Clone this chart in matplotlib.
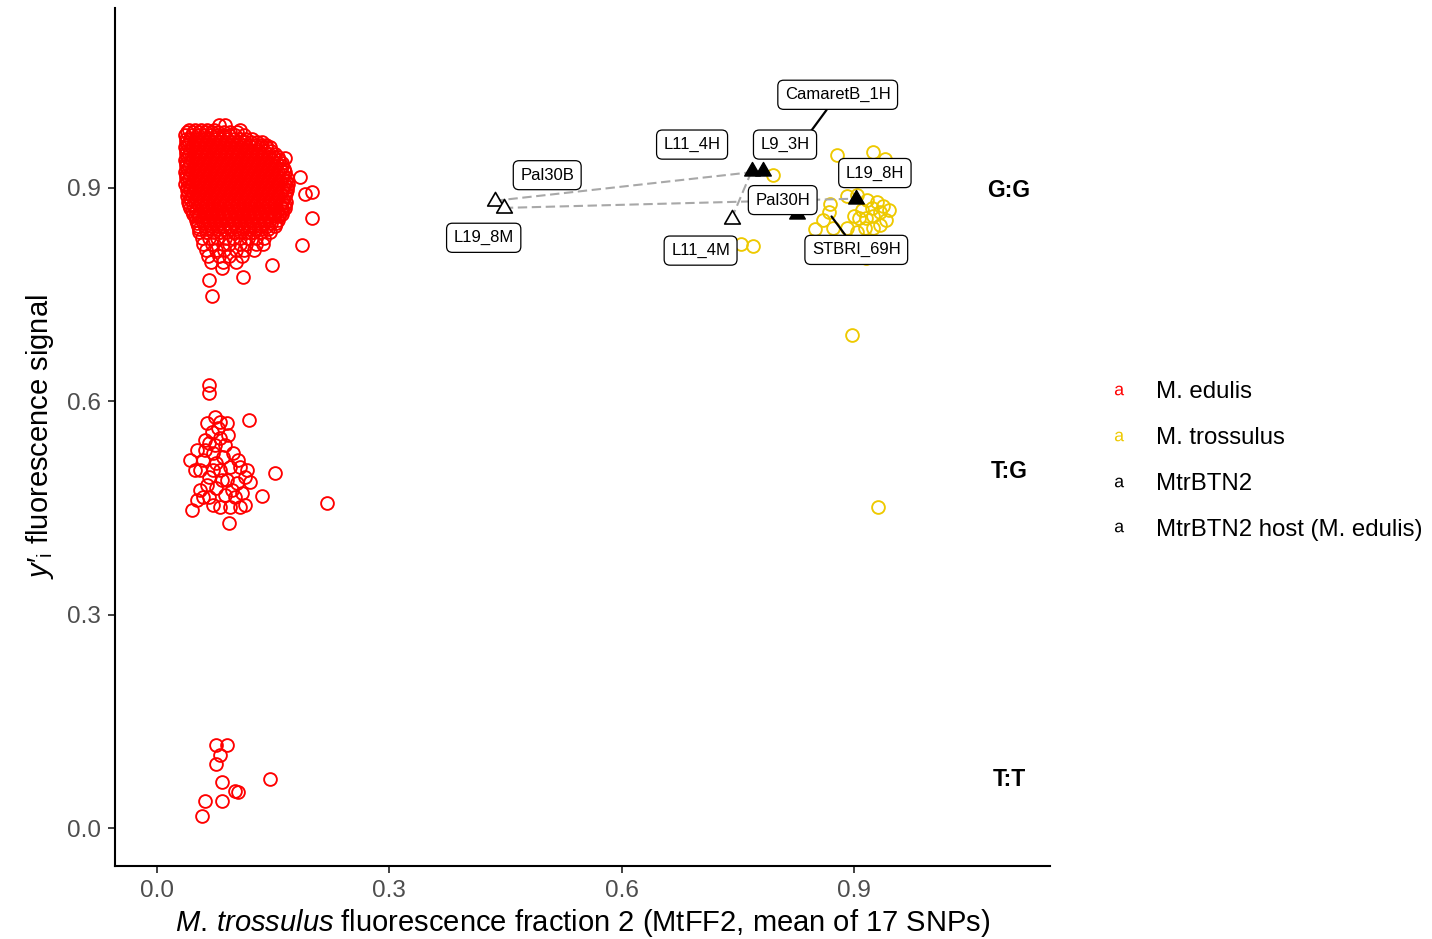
import numpy as np
import matplotlib
matplotlib.use("Agg")
import matplotlib.pyplot as plt
from matplotlib.lines import Line2D
from matplotlib.path import Path

plt.rcParams['font.family'] = ['Liberation Sans', 'DejaVu Sans']
plt.rcParams['mathtext.fontset'] = 'custom'
plt.rcParams['mathtext.rm'] = 'Liberation Sans'
plt.rcParams['mathtext.it'] = 'Liberation Sans:italic'

# ---- M. edulis, G:G cluster (dense core given row by row) ----
edulis_gg_row_y = [0.989, 0.982, 0.974, 0.965, 0.957, 0.948, 0.940, 0.931,
                   0.923, 0.914, 0.906, 0.897, 0.889, 0.880, 0.872, 0.864,
                   0.855, 0.847, 0.838, 0.830, 0.821, 0.813, 0.804, 0.796]
edulis_gg_row_x = [
    [0.080, 0.088],
    [0.041, 0.049, 0.057, 0.065, 0.074, 0.107],
    [0.037, 0.045, 0.053, 0.061, 0.069, 0.077, 0.085, 0.093, 0.101, 0.112],
    [0.038, 0.042, 0.049, 0.057, 0.065, 0.073, 0.081, 0.089, 0.097, 0.105, 0.113, 0.121, 0.129, 0.136],
    [0.037, 0.045, 0.053, 0.061, 0.069, 0.077, 0.085, 0.093, 0.101, 0.109, 0.117, 0.125, 0.133, 0.141, 0.146],
    [0.038, 0.042, 0.049, 0.057, 0.065, 0.073, 0.081, 0.089, 0.097, 0.105, 0.113, 0.121, 0.129, 0.137, 0.145, 0.152],
    [0.037, 0.045, 0.053, 0.061, 0.069, 0.077, 0.085, 0.093, 0.101, 0.109, 0.117, 0.125, 0.133, 0.141, 0.149, 0.158],
    [0.038, 0.042, 0.049, 0.057, 0.065, 0.073, 0.081, 0.089, 0.097, 0.105, 0.113, 0.121, 0.129, 0.137, 0.145, 0.153, 0.162],
    [0.037, 0.045, 0.053, 0.061, 0.069, 0.077, 0.085, 0.093, 0.101, 0.109, 0.117, 0.125, 0.133, 0.141, 0.149, 0.157, 0.165],
    [0.038, 0.042, 0.049, 0.057, 0.065, 0.073, 0.081, 0.089, 0.097, 0.105, 0.113, 0.121, 0.129, 0.137, 0.145, 0.153, 0.161, 0.168],
    [0.037, 0.045, 0.053, 0.061, 0.069, 0.077, 0.085, 0.093, 0.101, 0.109, 0.117, 0.125, 0.133, 0.141, 0.149, 0.157, 0.165, 0.169],
    [0.039, 0.043, 0.049, 0.057, 0.065, 0.073, 0.081, 0.089, 0.097, 0.105, 0.113, 0.121, 0.129, 0.137, 0.145, 0.153, 0.161, 0.168],
    [0.039, 0.045, 0.053, 0.061, 0.069, 0.077, 0.085, 0.093, 0.101, 0.109, 0.117, 0.125, 0.133, 0.141, 0.149, 0.157, 0.165],
    [0.040, 0.049, 0.057, 0.065, 0.073, 0.081, 0.089, 0.097, 0.105, 0.113, 0.121, 0.129, 0.137, 0.145, 0.153, 0.161, 0.167],
    [0.043, 0.050, 0.058, 0.066, 0.074, 0.082, 0.090, 0.098, 0.106, 0.114, 0.122, 0.130, 0.138, 0.146, 0.154, 0.162, 0.165],
    [0.047, 0.054, 0.062, 0.070, 0.078, 0.086, 0.094, 0.102, 0.110, 0.118, 0.126, 0.134, 0.142, 0.150, 0.158, 0.161],
    [0.050, 0.058, 0.066, 0.074, 0.082, 0.090, 0.098, 0.106, 0.114, 0.122, 0.130, 0.138, 0.146, 0.156],
    [0.053, 0.062, 0.070, 0.078, 0.086, 0.094, 0.102, 0.110, 0.118, 0.126, 0.134, 0.142, 0.152],
    [0.055, 0.063, 0.072, 0.081, 0.090, 0.099, 0.108, 0.117, 0.126, 0.135, 0.146],
    [0.058, 0.068, 0.078, 0.088, 0.098, 0.108, 0.118, 0.128, 0.139],
    [0.060, 0.071, 0.085, 0.093, 0.107, 0.115, 0.128, 0.137],
    [0.064, 0.076, 0.087, 0.102, 0.113, 0.126],
    [0.066, 0.080, 0.093, 0.110],
    [0.070, 0.085, 0.102],
]
# second set of G:G individuals lying between the rows above
edulis_gg_mid_y = [0.978, 0.969, 0.961, 0.952, 0.944, 0.935, 0.927, 0.918, 0.910,
                   0.901, 0.893, 0.884, 0.876, 0.868, 0.860, 0.851, 0.843]
edulis_gg_mid_x = [
    [0.039, 0.047, 0.055, 0.063, 0.071, 0.079, 0.087, 0.095, 0.103],
    [0.038, 0.043, 0.051, 0.059, 0.067, 0.075, 0.083, 0.091, 0.099, 0.107, 0.115, 0.123],
    [0.039, 0.047, 0.055, 0.063, 0.071, 0.079, 0.087, 0.095, 0.103, 0.111, 0.119, 0.127, 0.135, 0.141],
    [0.038, 0.043, 0.051, 0.059, 0.067, 0.075, 0.083, 0.091, 0.099, 0.107, 0.115, 0.123, 0.131, 0.139, 0.147],
    [0.039, 0.047, 0.055, 0.063, 0.071, 0.079, 0.087, 0.095, 0.103, 0.111, 0.119, 0.127, 0.135, 0.143, 0.151, 0.156],
    [0.038, 0.043, 0.051, 0.059, 0.067, 0.075, 0.083, 0.091, 0.099, 0.107, 0.115, 0.123, 0.131, 0.139, 0.147, 0.155, 0.161],
    [0.039, 0.047, 0.055, 0.063, 0.071, 0.079, 0.087, 0.095, 0.103, 0.111, 0.119, 0.127, 0.135, 0.143, 0.151, 0.159, 0.164],
    [0.038, 0.043, 0.051, 0.059, 0.067, 0.075, 0.083, 0.091, 0.099, 0.107, 0.115, 0.123, 0.131, 0.139, 0.147, 0.155, 0.163],
    [0.039, 0.047, 0.055, 0.063, 0.071, 0.079, 0.087, 0.095, 0.103, 0.111, 0.119, 0.127, 0.135, 0.143, 0.151, 0.159, 0.167],
    [0.039, 0.043, 0.051, 0.059, 0.067, 0.075, 0.083, 0.091, 0.099, 0.107, 0.115, 0.123, 0.131, 0.139, 0.147, 0.155, 0.163, 0.168],
    [0.040, 0.047, 0.055, 0.063, 0.071, 0.079, 0.087, 0.095, 0.103, 0.111, 0.119, 0.127, 0.135, 0.143, 0.151, 0.159, 0.167],
    [0.043, 0.051, 0.059, 0.067, 0.075, 0.083, 0.091, 0.099, 0.107, 0.115, 0.123, 0.131, 0.139, 0.147, 0.155, 0.163],
    [0.042, 0.047, 0.055, 0.063, 0.071, 0.079, 0.087, 0.095, 0.103, 0.111, 0.119, 0.127, 0.135, 0.143, 0.151, 0.159, 0.165],
    [0.045, 0.051, 0.059, 0.067, 0.075, 0.083, 0.091, 0.099, 0.107, 0.115, 0.123, 0.131, 0.139, 0.147, 0.155, 0.162],
    [0.049, 0.055, 0.063, 0.071, 0.079, 0.087, 0.095, 0.103, 0.111, 0.119, 0.127, 0.135, 0.143, 0.151, 0.158],
    [0.052, 0.059, 0.067, 0.075, 0.083, 0.091, 0.099, 0.107, 0.115, 0.123, 0.131, 0.139, 0.147, 0.154],
    [0.055, 0.063, 0.071, 0.079, 0.087, 0.095, 0.103, 0.111, 0.119, 0.127, 0.135, 0.143],
]
# scattered G:G individuals around the core
edulis_gg_out_x = [0.071, 0.068, 0.111, 0.084, 0.149, 0.187, 0.200, 0.200, 0.191, 0.185, 0.166]
edulis_gg_out_y = [0.748, 0.771, 0.775, 0.788, 0.792, 0.820, 0.858, 0.894, 0.892, 0.916, 0.942]

# ---- M. edulis, T:G cluster ----
edulis_tg_x = [0.067, 0.067, 0.119, 0.065, 0.075, 0.081, 0.090, 0.071, 0.081, 0.043,
               0.052, 0.059, 0.072, 0.085, 0.098, 0.107, 0.116, 0.152, 0.136, 0.220,
               0.045, 0.052, 0.059, 0.072, 0.081, 0.094, 0.107, 0.093, 0.120, 0.049,
               0.068, 0.081, 0.090, 0.103, 0.065, 0.077, 0.101, 0.110, 0.114, 0.068,
               0.056, 0.077, 0.094, 0.105, 0.068, 0.062, 0.075, 0.088, 0.062, 0.079,
               0.092, 0.056, 0.088, 0.097, 0.072, 0.084, 0.114]
edulis_tg_y = [0.623, 0.612, 0.574, 0.570, 0.578, 0.571, 0.570, 0.557, 0.549, 0.518,
               0.532, 0.518, 0.527, 0.522, 0.527, 0.508, 0.504, 0.499, 0.467, 0.457,
               0.447, 0.461, 0.466, 0.454, 0.451, 0.451, 0.451, 0.429, 0.487, 0.504,
               0.494, 0.504, 0.489, 0.485, 0.482, 0.478, 0.466, 0.471, 0.494, 0.541,
               0.504, 0.513, 0.508, 0.518, 0.466, 0.532, 0.539, 0.539, 0.546, 0.563,
               0.553, 0.475, 0.468, 0.475, 0.504, 0.489, 0.454]

# ---- M. edulis, T:T cluster ----
edulis_tt_x = [0.077, 0.090, 0.081, 0.077, 0.146, 0.084, 0.101, 0.105, 0.062, 0.084, 0.058]
edulis_tt_y = [0.117, 0.117, 0.103, 0.091, 0.070, 0.065, 0.053, 0.051, 0.038, 0.039, 0.018]

# ---- M. trossulus ----
trossulus_x = [0.878, 0.925, 0.940, 0.795, 0.770, 0.754, 0.891, 0.904, 0.917, 0.930,
               0.938, 0.945, 0.934, 0.925, 0.916, 0.907, 0.900, 0.941, 0.869, 0.860,
               0.850, 0.873, 0.891, 0.904, 0.925, 0.914, 0.934, 0.916, 0.910, 0.923,
               0.897, 0.943, 0.897, 0.931, 0.868]
trossulus_y = [0.947, 0.951, 0.941, 0.918, 0.819, 0.821, 0.889, 0.890, 0.883, 0.880,
               0.875, 0.869, 0.866, 0.861, 0.858, 0.858, 0.861, 0.855, 0.878, 0.855,
               0.842, 0.844, 0.844, 0.838, 0.844, 0.844, 0.848, 0.802, 0.869, 0.872,
               0.911, 0.918, 0.693, 0.451, 0.866]

# ---- MtrBTN2 tumours and their M. edulis hosts ----
tumour_names = ['L11_4H', 'L9_3H', 'Pal30H', 'L19_8H', 'CamaretB_1H']
tumour_x = [0.768, 0.783, 0.826, 0.903, 0.825]
tumour_y = [0.924, 0.924, 0.864, 0.885, 0.951]
host_names = ['Pal30B', 'L19_8M', 'L11_4M']
host_x = [0.436, 0.448, 0.742]
host_y = [0.882, 0.872, 0.857]
# host -> tumour links (index into tumour lists)
host_link = [1, 3, 0]

# labels and where their boxes sit
label_names = ['CamaretB_1H', 'L11_4H', 'L9_3H', 'Pal30B', 'L19_8H',
               'Pal30H', 'L19_8M', 'L11_4M', 'STBRI_69H']
label_pos_x = [0.879, 0.691, 0.811, 0.504, 0.927, 0.808, 0.422, 0.702, 0.903]
label_pos_y = [1.031, 0.961, 0.961, 0.918, 0.921, 0.883, 0.830, 0.812, 0.813]
# points targeted by a leader segment
leader_labels = ['CamaretB_1H', 'STBRI_69H']
leader_x = [0.825, 0.871]
leader_y = [0.951, 0.860]

genotypes = ['G:G', 'T:G', 'T:T']
genotype_y = [0.896, 0.502, 0.069]

legend_labels = ['M. edulis', 'M. trossulus', 'MtrBTN2', 'MtrBTN2 host (M. edulis)']
red = '#FF0000'
gold = '#EEC900'

# ---------------------------------------------------------------
gg_x, gg_y = [], []
for rows_x, rows_y in [(edulis_gg_row_x, edulis_gg_row_y), (edulis_gg_mid_x, edulis_gg_mid_y)]:
    for row, y in zip(rows_x, rows_y):
        gg_x += row
        gg_y += [y] * len(row)
ed_x = gg_x + edulis_gg_out_x + edulis_tg_x + edulis_tt_x
ed_y = gg_y + edulis_gg_out_y + edulis_tg_y + edulis_tt_y

fig = plt.figure(figsize=(14.32, 9.39), dpi=100)
ax = fig.add_axes([0.0803, 0.0777, 0.6529, 0.9138])

ring = dict(marker='o', ls='none', mfc='none', ms=9.2, mew=1.35)
ax.plot(trossulus_x, trossulus_y, color=gold, zorder=2, **ring)
ax.plot(ed_x, ed_y, color=red, zorder=2, **ring)

# dashed links between host and tumour
for i, j in enumerate(host_link):
    ax.plot([host_x[i], tumour_x[j]], [host_y[i], tumour_y[j]],
            color='#A8A8A8', lw=1.5, ls=(0, (4.5, 2.2)), zorder=3)

tri = Path([(-1, -0.577), (1, -0.577), (0, 1.155), (-1, -0.577)],
           [Path.MOVETO, Path.LINETO, Path.LINETO, Path.CLOSEPOLY])
ax.plot(tumour_x, tumour_y, ls='none', marker=tri, ms=13, color='black', zorder=4)
ax.plot(host_x, host_y, ls='none', marker=tri, ms=13, mfc='white', mec='black',
        mew=1.2, zorder=4)

box = dict(boxstyle='round,pad=0.42,rounding_size=0.35', fc='white', ec='black', lw=0.9)
for k, name in enumerate(label_names):
    if name in leader_labels:
        m = leader_labels.index(name)
        ax.annotate(name, xy=(leader_x[m], leader_y[m]),
                    xytext=(label_pos_x[k], label_pos_y[k]),
                    ha='center', va='center', fontsize=12, bbox=box, zorder=5,
                    arrowprops=dict(arrowstyle='-', color='black', lw=1.6,
                                    shrinkA=0, shrinkB=0))
    else:
        ax.text(label_pos_x[k], label_pos_y[k], name, ha='center', va='center',
                fontsize=12, bbox=box, zorder=6)

for g, gy in zip(genotypes, genotype_y):
    ax.text(1.1, gy, g, ha='center', va='center', fontsize=16.5, fontweight='bold')

ax.set_xlim(-0.054, 1.153)
ax.set_ylim(-0.053, 1.153)
ticks = [0.0, 0.3, 0.6, 0.9]
ax.set_xticks(ticks)
ax.set_yticks(ticks)
ax.set_xticklabels(['%.1f' % t for t in ticks])
ax.set_yticklabels(['%.1f' % t for t in ticks])
for s in ['top', 'right']:
    ax.spines[s].set_visible(False)
for s in ['left', 'bottom']:
    ax.spines[s].set_linewidth(1.5)
ax.tick_params(length=5, width=1.3, color='#333333', labelcolor='#4D4D4D',
               labelsize=17.5, pad=5)

ax.set_xlabel(r'$\mathit{M.}\!$ $\mathit{trossulus}$ fluorescence fraction 2 (MtFF2, mean of 17 SNPs)',
              fontsize=21, labelpad=4)
ax.set_ylabel(r"$y$′$_{\mathrm{i}}$ fluorescence signal", fontsize=21, labelpad=8)

handles = [Line2D([], [], ls='none', marker=r'$\mathrm{a}$', ms=7, mew=0, color=c)
           for c in [red, gold, 'black', 'black']]
fig.legend(handles, legend_labels, loc='center left', bbox_to_anchor=(0.758, 0.509),
           frameon=False, fontsize=17.3, labelspacing=0.99, handletextpad=1.03,
           handlelength=1.0)

fig.savefig('out.png', dpi=100)
